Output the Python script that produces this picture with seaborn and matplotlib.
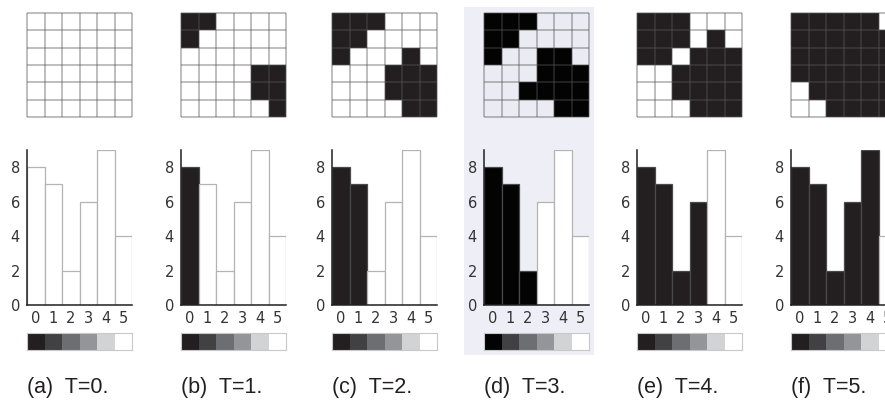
import numpy as np
import pandas as pd
import seaborn as sns
import matplotlib.pyplot as plt
from matplotlib.colors import ListedColormap
from matplotlib.patches import Rectangle

# data
bar_labels = ['0', '1', '2', '3', '4', '5']
bar_values = [8, 7, 2, 6, 9, 4]
steps = [0, 1, 2, 3, 4, 5]
captions = ['(a)  T=0.', '(b)  T=1.', '(c)  T=2.', '(d)  T=3.', '(e)  T=4.', '(f)  T=5.']
gray_levels = ['#231f20', '#414042', '#6d6e71', '#939598', '#d1d3d4', '#ffffff']

grid_a = [[0, 0, 0, 0, 0, 0],
          [0, 0, 0, 0, 0, 0],
          [0, 0, 0, 0, 0, 0],
          [0, 0, 0, 0, 0, 0],
          [0, 0, 0, 0, 0, 0],
          [0, 0, 0, 0, 0, 0]]
grid_b = [[1, 1, 0, 0, 0, 0],
          [1, 0, 0, 0, 0, 0],
          [0, 0, 0, 0, 0, 0],
          [0, 0, 0, 0, 1, 1],
          [0, 0, 0, 0, 1, 1],
          [0, 0, 0, 0, 0, 1]]
grid_c = [[1, 1, 1, 0, 0, 0],
          [1, 1, 0, 0, 0, 0],
          [1, 0, 0, 0, 1, 0],
          [0, 0, 0, 1, 1, 1],
          [0, 0, 0, 1, 1, 1],
          [0, 0, 0, 0, 1, 1]]
grid_d = [[1, 1, 1, 0, 0, 0],
          [1, 1, 0, 0, 0, 0],
          [1, 0, 0, 1, 1, 0],
          [0, 0, 0, 1, 1, 1],
          [0, 0, 1, 1, 1, 1],
          [0, 0, 0, 0, 1, 1]]
grid_e = [[1, 1, 1, 0, 0, 0],
          [1, 1, 1, 0, 1, 0],
          [1, 1, 0, 1, 1, 1],
          [0, 0, 1, 1, 1, 1],
          [0, 0, 1, 1, 1, 1],
          [0, 0, 0, 1, 1, 1]]
grid_f = [[1, 1, 1, 1, 1, 0],
          [1, 1, 1, 1, 1, 1],
          [1, 1, 1, 1, 1, 1],
          [1, 1, 1, 1, 1, 1],
          [0, 1, 1, 1, 1, 1],
          [0, 0, 1, 1, 1, 1]]
grids = [grid_a, grid_b, grid_c, grid_d, grid_e, grid_f]

sns.set_theme(style='white')
plt.rcParams['font.family'] = ['DejaVu Sans']

W, H = 885, 400
fig = plt.figure(figsize=(W / 100, H / 100), dpi=100)


def box(x, top, w, h):
    return [x / W, 1 - (top + h) / H, w / W, h / H]


# highlighted panel (d) background
fig.patches.append(Rectangle((464 / W, 1 - 355 / H), 130 / W, 348 / H,
                             transform=fig.transFigure, facecolor='#eeeef6',
                             edgecolor='none', zorder=-5))

lefts = [27, 181, 332, 484, 637, 791]
panel_w = 105

for i, (x0, t, grid, cap) in enumerate(zip(lefts, steps, grids, captions)):
    highlight = (i == 3)
    ink = '#030303' if highlight else '#231f20'
    light = '#ebebf3' if highlight else '#ffffff'

    # 6x6 grid
    ax = fig.add_axes(box(x0, 13, panel_w, 104))
    sns.heatmap(np.array(grid), ax=ax, cmap=ListedColormap([light, ink]),
                vmin=0, vmax=1, cbar=False, xticklabels=False,
                yticklabels=False, linewidths=0, square=False)
    ax.hlines(range(7), 0, 6, colors='#555555', alpha=0.45, linewidth=1.2, clip_on=False)
    ax.vlines(range(7), 0, 6, colors='#555555', alpha=0.45, linewidth=1.2, clip_on=False)
    for s in ax.spines.values():
        s.set_visible(False)

    # bar chart
    bx = fig.add_axes(box(x0, 150, panel_w, 155))
    bx.set_facecolor('none')
    cols = [ink if k < t else '#ffffff' for k in range(len(bar_values))]
    sns.barplot(x=bar_labels, y=bar_values, hue=bar_labels, palette=cols,
                legend=False, width=1, saturation=1, ax=bx)
    for k, p in enumerate(bx.patches):
        p.set_edgecolor('#4a4a4a' if k < t else '#b3b3b3')
        p.set_linewidth(0.9)
    bx.set_ylim(0, 9)
    bx.set_xlim(-0.5, 5.5)
    bx.set_yticks([0, 2, 4, 6, 8])
    sns.despine(ax=bx)
    for s in ['left', 'bottom']:
        bx.spines[s].set_color('#231f20')
        bx.spines[s].set_linewidth(1.1)
    bx.tick_params(axis='y', length=4, width=1, color='#231f20', pad=1,
                   labelsize=10.5, labelcolor='#333333')
    bx.tick_params(axis='x', length=0, pad=4, labelsize=10.5, labelcolor='#333333')
    bx.set_xlabel('')
    bx.set_ylabel('')

    # gray strip
    cx = fig.add_axes(box(x0, 333, panel_w, 17))
    strip = list(gray_levels)
    if highlight:
        strip[0] = '#030303'
    sns.heatmap(np.arange(6).reshape(1, 6), ax=cx, cmap=ListedColormap(strip),
                vmin=-0.5, vmax=5.5, cbar=False, xticklabels=False,
                yticklabels=False)
    for s in cx.spines.values():
        s.set_visible(True)
        s.set_color('#c8c8c8')
        s.set_linewidth(0.8)

    fig.text(x0 / W, 1 - 387 / H, cap, ha='left', va='center',
             fontsize=15.5, color='#231f20', family=['Liberation Sans'])

fig.savefig('out.png', dpi=100)
